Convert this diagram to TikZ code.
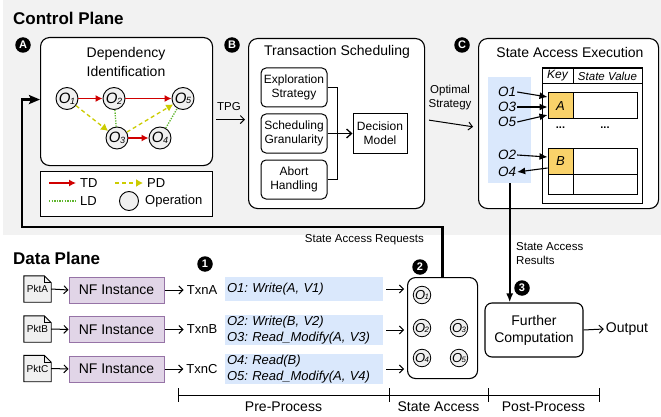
\documentclass[tikz,border=0pt]{standalone}
\usepackage{fontspec}
\setmainfont{Liberation Sans}
\usepackage{graphicx}
\usetikzlibrary{arrows.meta,calc,backgrounds}
\definecolor{bggray}{HTML}{F2F2F2}
\definecolor{tdred}{HTML}{D00000}
\definecolor{pdyel}{HTML}{CCCC00}
\definecolor{ldgreen}{HTML}{5FB52E}
\definecolor{lblue}{HTML}{DAE8FC}
\definecolor{lpurp}{HTML}{E1D5E7}
\definecolor{dpurp}{HTML}{9673A6}
\definecolor{ycell}{HTML}{F9D26A}
\definecolor{opgray}{HTML}{F0F0F0}
\newcommand{\fsz}[2]{\fontsize{#1}{#2}\selectfont}
\newcommand{\opl}[1]{\textit{O}\kern-0.6pt\raisebox{-0.6pt}{\scalebox{0.6}{\itshape #1}}}
\begin{document}
\begin{tikzpicture}[x=1pt,y=-1pt,
  bigbox/.style={draw,line width=1.1pt,rounded corners=9pt,fill=white,inner sep=0pt},
  badge/.style={circle,fill=black,text=white,font=\fsz{11}{11}\bfseries,inner sep=0pt,minimum size=15.5pt},
  opbig/.style={circle,draw,line width=0.9pt,fill=opgray,inner sep=0pt,minimum size=22pt,font=\fsz{15}{15}},
  opsm/.style={circle,draw,line width=0.8pt,fill=opgray,inner sep=0pt,minimum size=17.5pt,font=\fsz{13}{13}},
  subbox/.style={draw,line width=1pt,rounded corners=5pt,fill=white,minimum width=66pt,minimum height=39pt,inner sep=0pt,align=center,font=\fsz{12}{14}},
  thinarr/.style={line width=1pt,-{Straight Barb[length=4pt,width=8pt]}},
  tdarr/.style={tdred,line width=1.3pt,-{Latex[length=7pt,width=7pt]}},
  pdarr/.style={pdyel,line width=1.3pt,dash pattern=on 4pt off 3pt,-{Latex[length=7pt,width=8pt]}},
  ldline/.style={ldgreen,line width=1.3pt,dash pattern=on 1.3pt off 1.3pt},
  tarr/.style={line width=1.1pt,-{Latex[length=8pt,width=7pt]}},
  nfbox/.style={draw=dpurp,fill=lpurp,line width=1pt,minimum width=95pt,minimum height=26pt,inner sep=0pt,font=\fsz{14}{14}},
  pktbox/.style={minimum width=27pt,minimum height=26pt,inner sep=0pt,font=\fsz{10}{10}},
  listbox/.style={fill=lblue,inner xsep=2pt,inner ysep=0pt,text width=154pt,align=left,font=\fsz{13}{15.5}\itshape\frenchspacing},
  cell/.style={draw,line width=1pt,inner sep=0pt},
  lbl/.style={inner sep=0pt,font=\fsz{11.5}{14}}
]
\useasboundingbox (0,0) rectangle (661,417);
\begin{scope}[on background layer]
\fill[bggray] (3,0) rectangle (661,235);
\end{scope}

% titles
\node[anchor=west,inner sep=0pt,font=\fsz{17}{20}\bfseries] (cptitle) at (13,18) {Control Plane};
\node[anchor=west,inner sep=0pt,font=\fsz{17}{20}\bfseries] (dptitle) at (13,258) {Data Plane};

% badges
\node[badge] (bA) at (23,45) {A};
\node[badge] (bB) at (232,45) {B};
\node[badge] (bC) at (462,45) {C};
\node[badge] (b1) at (205,264) {1};
\node[badge] (b2) at (420,267) {2};
\node[badge] (b3) at (522,288) {3};

% ---------- Box A
\node[bigbox,minimum width=172pt,minimum height=128pt,anchor=north west] (boxA) at (40,37) {};
\node[align=center,inner sep=0pt,font=\fsz{14}{19}] (titA) at (126,61.5) {Dependency\\Identification};
\node[opbig] (o1) at (67,98.5) {\opl{1}};
\node[opbig] (o2) at (114,98.5) {\opl{2}};
\node[opbig] (o5) at (183,98.5) {\opl{5}};
\node[opbig] (o3) at (117,138) {\opl{3}};
\node[opbig] (o4) at (160,138) {\opl{4}};
\draw[tdarr] (o1) -- (o2);
\draw[tdarr] (o2) -- (o5);
\draw[tdarr] (o3) -- (o4);
\draw[pdarr] (o1) -- (o3);
\draw[pdarr] (o3) -- (o5);
\draw[ldline] (o2) -- (o3);
\draw[ldline] (o4) -- (o5);

% legend
\node[draw,fill=white,line width=1pt,minimum width=172pt,minimum height=45pt,inner sep=0pt,anchor=north west] (leg) at (40,171) {};
\coordinate (tdS) at (49,183); \coordinate (tdE) at (76,183);
\coordinate (pdS) at (115,183); \coordinate (pdE) at (143,183);
\coordinate (ldS) at (49,201); \coordinate (ldE) at (76,201);
\draw[tdarr] (tdS) -- (tdE);
\draw[pdarr] (pdS) -- (pdE);
\draw[ldline] (ldS) -- (ldE);
\node[anchor=west,inner sep=0pt,font=\fsz{13}{13}] (ltd) at (80,183) {TD};
\node[anchor=west,inner sep=0pt,font=\fsz{13}{13}] (lpd) at (147,183) {PD};
\node[anchor=west,inner sep=0pt,font=\fsz{13}{13}] (lld) at (80,201) {LD};
\node[circle,draw,line width=0.9pt,fill=opgray,minimum size=19pt,inner sep=0pt] (lopc) at (129,201) {};
\node[anchor=west,inner sep=0pt,font=\fsz{13}{13}] (lop) at (145,201) {Operation};

% ---------- Box B
\node[bigbox,minimum width=176pt,minimum height=170pt,anchor=north west] (boxB) at (248,38) {};
\node[inner sep=0pt,font=\fsz{14}{14}] (titB) at (337,52) {Transaction Scheduling};
\node[subbox] (expl) at (294,87.5) {Exploration\\Strategy};
\node[subbox] (sched) at (294,133.5) {Scheduling\\Granularity};
\node[subbox] (abort) at (294,179.5) {Abort\\Handling};
\node[draw,line width=1pt,fill=white,minimum width=54pt,minimum height=39pt,inner sep=0pt,align=center,font=\fsz{12}{14}] (dec) at (380,133.5) {Decision\\Model};
\coordinate (jn) at (337,133.5);
\draw[line width=1pt] (expl.east) -| (jn);
\draw[line width=1pt] (abort.east) -| (jn);
\draw[line width=1.3pt,-{Straight Barb[length=5pt,width=9pt]}] (sched.east) -- (dec.west);

% TPG arrow
\draw[thinarr,shorten <=3pt,shorten >=3pt] ([yshift=-18pt]boxA.east) -- ([yshift=4pt]boxB.west);
\node[lbl] (tpg) at (229,107) {TPG};

% ---------- Box C
\node[bigbox,minimum width=180pt,minimum height=170pt,anchor=north west] (boxC) at (478,38) {};
\node[inner sep=0pt,font=\fsz{14}{14}] (titC) at (570,52) {State Access Execution};
\draw[thinarr,shorten <=4pt,shorten >=5pt] ([yshift=4pt]boxB.east) -- ([yshift=-4pt]boxC.west);
\node[lbl,align=center] (optl) at (450,98) {Optimal\\Strategy};

\node[fill=lblue,minimum width=43pt,minimum height=106pt,inner sep=0pt,anchor=north west] (blueC) at (488,77) {};
\node[inner sep=1pt,font=\fsz{13.5}{13.5}\itshape] (lo1) at (507,92) {O1};
\node[inner sep=1pt,font=\fsz{13.5}{13.5}\itshape] (lo3) at (507,107) {O3};
\node[inner sep=1pt,font=\fsz{13.5}{13.5}\itshape] (lo5) at (507,122) {O5};
\node[inner sep=1pt,font=\fsz{13.5}{13.5}\itshape] (lo2) at (507,155) {O2};
\node[inner sep=1pt,font=\fsz{13.5}{13.5}\itshape] (lo4) at (507,172) {O4};

% table
\node[cell,line width=1.1pt,minimum width=100pt,minimum height=135pt,anchor=north west] (tbl) at (542,68) {};
\node[cell,minimum width=31pt,minimum height=16pt,font=\fsz{12}{12}\itshape] (hkey) at (557.5,76) {Key};
\node[cell,minimum width=69pt,minimum height=16pt,font=\fsz{11.5}{12}\itshape] (hval) at (607.5,76) {State Value};
\node[cell,fill=ycell,minimum width=25pt,minimum height=26pt,font=\fsz{13}{13}\itshape] (cellA) at (560.5,106) {A};
\node[cell,fill=white,minimum width=64pt,minimum height=26pt] (valA) at (605,106) {};
\node[cell,fill=ycell,minimum width=25pt,minimum height=26pt,font=\fsz{13}{13}\itshape] (cellB) at (560.5,161) {B};
\node[cell,fill=white,minimum width=64pt,minimum height=26pt] (valB) at (605,161) {};
\node[cell,fill=white,minimum width=25pt,minimum height=20pt] (ekey) at (560.5,184) {};
\node[cell,fill=white,minimum width=64pt,minimum height=20pt] (eval) at (605,184) {};
\node[inner sep=0pt,font=\fsz{11}{11}\bfseries] (dots1) at (560.5,128) {...};
\node[inner sep=0pt,font=\fsz{11}{11}\bfseries] (dots2) at (605,128) {...};

\draw[tarr] (lo1.east) -- ([yshift=9pt]cellA.west);
\draw[tarr] (lo3.east) -- ([yshift=-1pt]cellA.west);
\draw[tarr] (lo5.east) -- ([yshift=-9pt]cellA.west);
\draw[tarr] (lo2.east) -- ([yshift=4pt]cellB.west);
\draw[tarr] ([yshift=-7pt]cellB.west) -- (lo4.east);

% ---------- Data plane
\node[pktbox] (pktA) at (37.5,289) {PktA};
\node[pktbox] (pktB) at (37.5,329) {PktB};
\node[pktbox] (pktC) at (37.5,368.5) {PktC};
\begin{scope}[on background layer]
\foreach \p in {pktA,pktB,pktC}{
  \draw[fill=opgray,line width=0.9pt]
    (\p.south west) -- (\p.north west) -- ([xshift=-7pt]\p.north east)
    -- ([yshift=-7pt]\p.north east) -- (\p.south east) -- cycle;
  \draw[line width=0.8pt] ([xshift=-7pt]\p.north east) -- ([xshift=-7pt,yshift=-7pt]\p.north east) -- ([yshift=-7pt]\p.north east);
}
\end{scope}

\node[nfbox] (nfA) at (116.5,290) {NF Instance};
\node[nfbox] (nfB) at (116.5,329.5) {NF Instance};
\node[nfbox] (nfC) at (116.5,369) {NF Instance};
\node[inner sep=0pt,font=\fsz{13}{13}] (txA) at (202,290) {TxnA};
\node[inner sep=0pt,font=\fsz{13}{13}] (txB) at (202,329.5) {TxnB};
\node[inner sep=0pt,font=\fsz{13}{13}] (txC) at (202,369) {TxnC};
\draw[thinarr] (pktA.east) -- (nfA.west);
\draw[thinarr] (pktB.east) -- (nfB.west);
\draw[thinarr] (pktC.east) -- (nfC.west);
\draw[thinarr] (nfA.east) -- ([xshift=-3pt]txA.west);
\draw[thinarr] (nfB.east) -- ([xshift=-3pt]txB.west);
\draw[thinarr] (nfC.east) -- ([xshift=-3pt]txC.west);

\node[listbox,minimum height=24pt] (la) at (304,289) {O1: Write(A, V1)};
\node[listbox,minimum height=30pt] (lb) at (304,330) {O2: Write(B, V2)\\O3: Read\_Modify(A, V3)};
\node[listbox,minimum height=30pt] (lc) at (304,369) {O4: Read(B)\\O5: Read\_Modify(A, V4)};

% box 2
\node[bigbox,rounded corners=8pt,minimum width=70pt,minimum height=101pt,anchor=north west] (box2) at (407,277) {};
\node[opsm] (c1) at (422,295) {\opl{1}};
\node[opsm] (c2) at (422,328) {\opl{2}};
\node[opsm] (c3) at (459,328) {\opl{3}};
\node[opsm] (c4) at (422,358) {\opl{4}};
\node[opsm] (c5) at (459,358) {\opl{5}};
\draw[thinarr,shorten <=3pt,shorten >=3pt] (la.east) -- (la.east -| box2.west);
\draw[thinarr,shorten <=3pt,shorten >=3pt] (lb.east) -- (lb.east -| box2.west);
\draw[thinarr,shorten <=3pt,shorten >=3pt] (lc.east) -- (lc.east -| box2.west);

% feedback line
\coordinate (fbc) at (22,227);
\draw[line width=2.2pt,-{Stealth[length=11pt,width=9pt,inset=2pt]}] (box2.north) |- (fbc) |- ([yshift=2pt]boxA.west);
\node[lbl,anchor=east] (sar) at (424,240) {State Access Requests};

% further computation
\node[draw,line width=1.1pt,rounded corners=7pt,fill=white,minimum width=98pt,minimum height=54pt,inner sep=0pt,align=center,font=\fsz{14}{17}] (further) at (534,330) {Further\\Computation};
\draw[line width=2pt,-{Latex[length=9pt,width=7pt]}] (blueC.south) -- (blueC.south |- further.north);
\node[lbl,anchor=west,align=left] (sares) at (516,254) {State Access\\Results};
\node[inner sep=0pt,font=\fsz{14}{14}] (outp) at (627,329) {Output};
\draw[thinarr] (further.east) -- ([xshift=-2pt]outp.west);

% phase axis
\coordinate (ax0) at (178,395);
\coordinate (ax1) at (389,395);
\coordinate (ax2) at (488,395);
\coordinate (ax3) at (599,395);
\draw[line width=1pt] (ax0) -- (ax3);
\foreach \a in {ax0,ax1,ax2,ax3}{
  \draw[line width=1pt] ([yshift=7pt]\a) -- ([yshift=-7pt]\a);
}
\node[inner sep=0pt,font=\fsz{14}{14}] (pre) at (283.5,407) {Pre-Process};
\node[inner sep=0pt,font=\fsz{14}{14}] (sac) at (438.5,407) {State Access};
\node[inner sep=0pt,font=\fsz{14}{14}] (post) at (543.5,407) {Post-Process};
\end{tikzpicture}
\end{document}
